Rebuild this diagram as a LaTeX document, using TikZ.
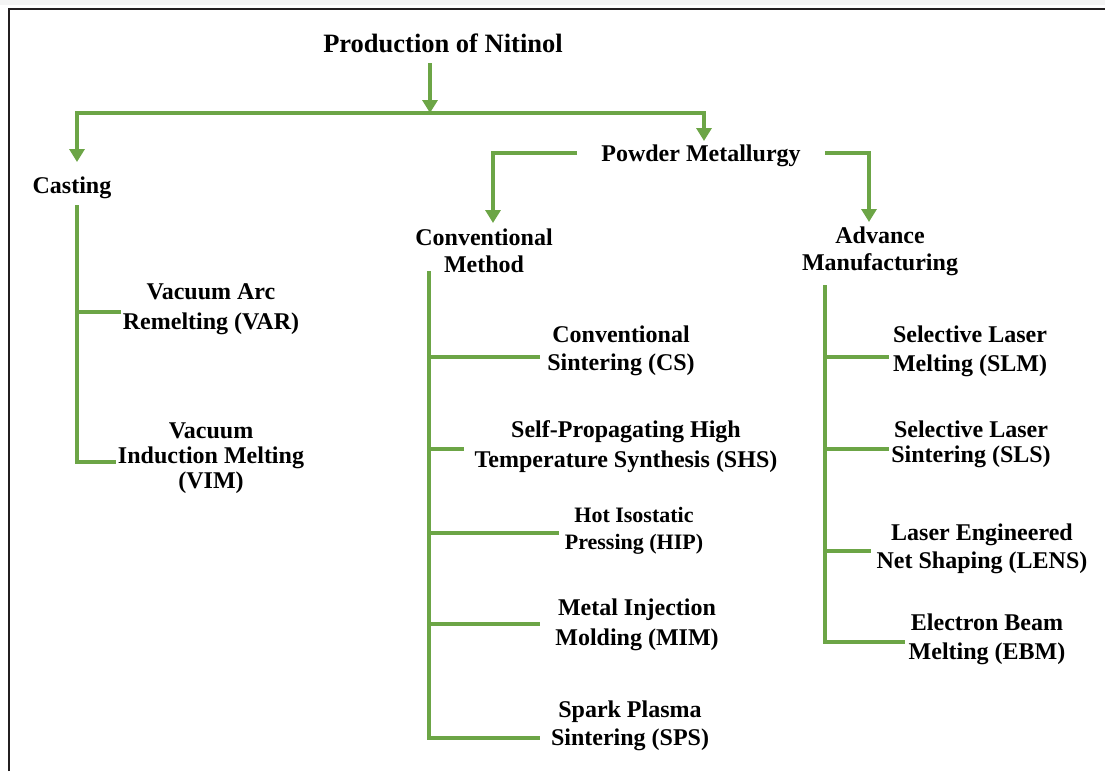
\documentclass[tikz,border=0pt]{standalone}
\usepackage{fontspec}
\setmainfont{Liberation Serif}
\usetikzlibrary{arrows.meta}
\definecolor{grn}{RGB}{108,165,70}
\definecolor{framecol}{RGB}{35,31,32}
\definecolor{topband}{RGB}{244,244,244}
\newcommand{\mystk}[1]{\begin{tabular}[t]{@{}c@{}}#1\end{tabular}}
\begin{document}
\begin{tikzpicture}[x=1pt,y=-1pt,
  ln/.style={draw=grn,line width=3.3pt},
  arr/.style={ln,-{Triangle[length=13pt,width=15pt]}},
  lbl/.style={font=\bfseries\fontsize{24}{#1}\selectfont,anchor=base,inner sep=2pt,text=black},
  lbl/.default=28]
\useasboundingbox (0,0) rectangle (1105,771);
\fill[topband] (0,0) rectangle (1105,5);
\draw[framecol,line width=2.4pt] (9,771) -- (9,9) -- (1105,9);

% nodes
\node[lbl,font=\bfseries\fontsize{26.5}{30}\selectfont] (title) at (443,52) {Production of Nitinol};
\node[lbl] (cast) at (72,193) {Casting};
\node[lbl] (pm) at (701,161) {Powder Metallurgy};
\node[lbl=27] (conv) at (484,245) {\mystk{Conventional\\Method}};
\node[lbl=27] (adv) at (880,243) {\mystk{Advance\\Manufacturing}};
\node[lbl=30] (var) at (211,299) {\mystk{Vacuum Arc\\Remelting (VAR)}};
\node[lbl=25] (vim) at (211,438) {\mystk{Vacuum\\Induction Melting\\(VIM)}};
\node[lbl] (cs) at (621,342) {\mystk{Conventional\\Sintering (CS)}};
\node[lbl=30] (shs) at (626,437) {\mystk{Self-Propagating High\\Temperature Synthesis (SHS)}};
\node[lbl,font=\bfseries\fontsize{22}{27}\selectfont] (hip) at (634,522) {\mystk{Hot Isostatic\\Pressing (HIP)}};
\node[lbl=30] (mim) at (637,615) {\mystk{Metal Injection\\Molding (MIM)}};
\node[lbl] (sps) at (630,717) {\mystk{Spark Plasma\\Sintering (SPS)}};
\node[lbl=29] (slm) at (970,342) {\mystk{Selective Laser\\Melting (SLM)}};
\node[lbl=25] (sls) at (971,437) {\mystk{Selective Laser\\Sintering (SLS)}};
\node[lbl] (lens) at (982,540) {\mystk{Laser Engineered\\Net Shaping (LENS)}};
\node[lbl=29] (ebm) at (987,630) {\mystk{Electron Beam\\Melting (EBM)}};

% top level connectors
\coordinate (tA) at (430,63);
\coordinate (bJ) at (430,113);
\coordinate (bL) at (77,113);
\coordinate (bR) at (704,113);
\coordinate (castIn) at (77,162);
\coordinate (pmIn) at (704,141);
\draw[arr] (tA) -- (bJ);
\draw[arr] (bR) -- (bL) -- (castIn);
\draw[arr] (bL) -- (bR) -- (pmIn);

% powder metallurgy split
\coordinate (pmL) at (577,153);
\coordinate (pmLc) at (493,153);
\coordinate (convIn) at (493,223);
\coordinate (pmR) at (825,153);
\coordinate (pmRc) at (869,153);
\coordinate (advIn) at (869,222);
\draw[arr] (pmL) -- (pmLc) -- (convIn);
\draw[arr] (pmR) -- (pmRc) -- (advIn);

% casting spine
\coordinate (caT) at (77,205);
\coordinate (caB) at (77,462);
\coordinate (caVar) at (77,312);
\draw[ln] (caT) -- (caB) -- (caB -| vim.west);
\draw[ln] (caVar) -- (caVar -| var.west);

% conventional spine
\coordinate (coT) at (429,271);
\coordinate (coB) at (429,738);
\coordinate (coCS) at (429,357);
\coordinate (coSHS) at (429,449);
\coordinate (coHIP) at (429,533);
\coordinate (coMIM) at (429,624);
\draw[ln,shorten >=9pt] (coT) -- (coB) -- (coB -| sps.west);
\draw[ln,shorten >=5pt] (coCS) -- (coCS -| cs.west);
\draw[ln,shorten >=8pt] (coSHS) -- (coSHS -| shs.west);
\draw[ln,shorten >=4pt] (coHIP) -- (coHIP -| hip.west);
\draw[ln,shorten >=13pt] (coMIM) -- (coMIM -| mim.west);

% advance spine
\coordinate (adT) at (825,285);
\coordinate (adB) at (825,642);
\coordinate (adSLM) at (825,357);
\coordinate (adSLS) at (825,449);
\coordinate (adLENS) at (825,551);
\draw[ln,shorten >=1pt] (adT) -- (adB) -- (adB -| ebm.west);
\draw[ln,shorten >=2pt] (adSLM) -- (adSLM -| slm.west);
\draw[ln] (adSLS) -- (adSLS -| sls.west);
\draw[ln,shorten >=3pt] (adLENS) -- (adLENS -| lens.west);
\end{tikzpicture}
\end{document}
